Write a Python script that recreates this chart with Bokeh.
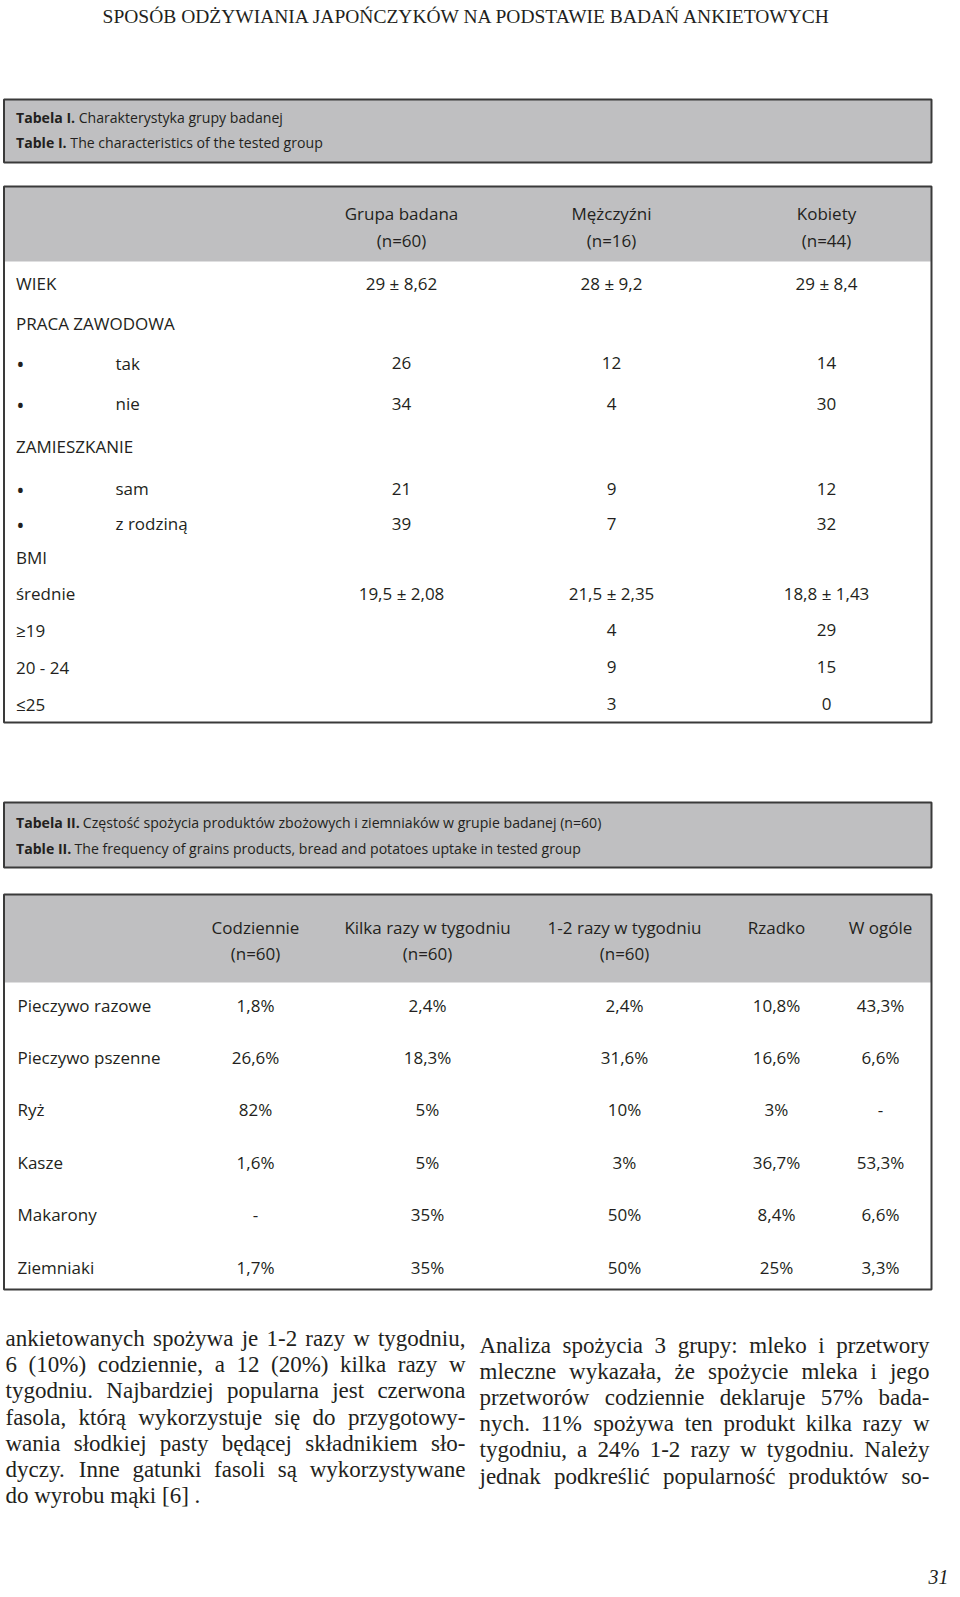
from bokeh.plotting import figure
from bokeh.models import Range1d
from bokeh.core.properties import value
from bokeh.embed import file_html
from bokeh.resources import INLINE

# ---------------- data ----------------
page_title = "SPOSÓB ODŻYWIANIA JAPOŃCZYKÓW NA PODSTAWIE BADAŃ ANKIETOWYCH"
page_number = "31"

t1_caption_bold = ["Tabela I.", "Table I."]
t1_caption_text = ["Charakterystyka grupy badanej", "The characteristics of  the tested group"]
t1_columns = ["Grupa badana", "Mężczyźni", "Kobiety"]
t1_counts = ["(n=60)", "(n=16)", "(n=44)"]
t1_rows = ["WIEK", "PRACA ZAWODOWA", "tak", "nie", "ZAMIESZKANIE", "sam", "z rodziną",
           "BMI", "średnie", "≥19", "20 - 24", "≤25"]
t1_bullet = [False, False, True, True, False, True, True, False, False, False, False, False]
t1_grupa = ["29 ± 8,62", "", "26", "34", "", "21", "39", "", "19,5 ± 2,08", "", "", ""]
t1_mezczyzni = ["28 ± 9,2", "", "12", "4", "", "9", "7", "", "21,5 ± 2,35", "4", "9", "3"]
t1_kobiety = ["29 ± 8,4", "", "14", "30", "", "12", "32", "", "18,8 ± 1,43", "29", "15", "0"]

t2_caption_bold = ["Tabela II.", "Table II."]
t2_caption_text = ["Częstość spożycia produktów zbożowych i ziemniaków  w grupie badanej (n=60)",
                   "The frequency of  grains products, bread and  potatoes uptake in tested group"]
t2_columns = ["Codziennie", "Kilka razy w tygodniu", "1-2 razy w tygodniu", "Rzadko", "W ogóle"]
t2_counts = ["(n=60)", "(n=60)", "(n=60)", "", ""]
t2_rows = ["Pieczywo razowe", "Pieczywo pszenne", "Ryż", "Kasze", "Makarony", "Ziemniaki"]
t2_codziennie = ["1,8%", "26,6%", "82%", "1,6%", "-", "1,7%"]
t2_kilka_razy = ["2,4%", "18,3%", "5%", "5%", "35%", "35%"]
t2_1_2_razy = ["2,4%", "31,6%", "10%", "3%", "50%", "50%"]
t2_rzadko = ["10,8%", "16,6%", "3%", "36,7%", "8,4%", "25%"]
t2_w_ogole = ["43,3%", "6,6%", "-", "53,3%", "6,6%", "3,3%"]

body_left = [
    "ankietowanych spożywa je 1-2 razy w tygodniu,",
    "6 (10%) codziennie, a 12 (20%) kilka razy w",
    "tygodniu. Najbardziej popularna jest czerwona",
    "fasola, którą wykorzystuje się do przygotowy-",
    "wania słodkiej pasty będącej składnikiem sło-",
    "dyczy. Inne gatunki fasoli są wykorzystywane",
    "do wyrobu mąki [6] .",
]
body_right = [
    "Analiza spożycia 3 grupy: mleko i przetwory",
    "mleczne wykazała, że spożycie mleka i jego",
    "przetworów codziennie deklaruje 57% bada-",
    "nych.  11% spożywa ten produkt kilka razy w",
    "tygodniu, a 24% 1-2 razy w tygodniu. Należy",
    "jednak podkreślić popularność produktów so-",
]

# ---------------- layout / style ----------------
W, H = 960, 1596
SANS = "Open Sans"
SERIF = "Liberation Serif"
INK = "#231f20"
GRAY = "#bfbfc1"
BORDER = "#3a3a3a"
TS = "17px"       # table text size
CS = 14.1         # caption size
BS = 23.0         # body size

BOX_L, BOX_R = 3.5, 931
CAP1 = (99, 162); CAP1_Y = [116.5, 142]
T1 = (186, 722); T1_BAND = 261
T1_HEAD_Y = [213, 240]
T1_ROW_Y = [282.5, 323, 362.5, 403, 446, 488, 523, 557, 592.5, 629.5, 666.5, 703.5]
T1_COL_X = [401, 611, 826]
CAP2 = (802, 867); CAP2_Y = [821.5, 848]
T2 = (894, 1289); T2_BAND = 982
T2_HEAD_Y = [927, 953]
T2_ROW_Y = [1005, 1057, 1109, 1161.5, 1214, 1266.5]
T2_COL_X = [255, 427, 624, 776, 880]
LEFT_COL = (5, 465); LEFT_BASE = [1338, 1364, 1390, 1417, 1442.5, 1468.5, 1495]
RIGHT_COL = (479, 929); RIGHT_BASE = [1345, 1371, 1397, 1423, 1449, 1475.5]

TIMES_W = {' ': 250, 'a': 444, 'b': 500, 'c': 444, 'd': 500, 'e': 444, 'f': 333, 'g': 500,
           'h': 500, 'i': 278, 'j': 278, 'k': 500, 'l': 278, 'm': 778, 'n': 500, 'o': 500,
           'p': 500, 'q': 500, 'r': 333, 's': 389, 't': 278, 'u': 500, 'v': 500, 'w': 722,
           'x': 500, 'y': 500, 'z': 444, 'ą': 444, 'ę': 444, 'ż': 444, 'ź': 444, 'ł': 278,
           'ó': 500, 'ś': 389, 'ć': 444, 'ń': 500, 'A': 722, 'I': 333, 'N': 722,
           ',': 250, '.': 250, '-': 333, '(': 333, ')': 333, '%': 833, '[': 333, ']': 333,
           ':': 278}
# approximate Open Sans Bold advance widths (per 1000 em)
SANSB_W = {'T': 574, 'a': 586, 'b': 635, 'e': 581, 'l': 295, 'I': 295, '.': 299, ' ': 260}


def tw(s, size):
    return sum(TIMES_W.get(c, 500) for c in s) / 1000.0 * size


def bold_w(s, size):
    return sum(SANSB_W.get(c, 600) for c in s) / 1000.0 * size


p = figure(width=W, height=H, output_backend="svg", toolbar_location=None,
           x_range=Range1d(0, W), y_range=Range1d(H, 0),
           x_axis_type=None, y_axis_type=None, min_border=0)
p.outline_line_color = None
p.grid.visible = False
p.background_fill_color = "white"
p.border_fill_color = "white"


def txt(xs, ys, texts, font=SANS, size=TS, align="left", baseline="middle", style="normal"):
    p.text(x=list(xs), y=list(ys), text=list(texts), text_font=value(font),
           text_font_size=size, text_align=align, text_baseline=baseline,
           text_font_style=style, text_color=INK)


def box(top_bottom, band=None):
    top, bottom = top_bottom
    p.quad(left=[BOX_L], right=[BOX_R], top=[top], bottom=[band if band is not None else bottom],
           fill_color=GRAY, line_color=None)
    p.quad(left=[BOX_L], right=[BOX_R], top=[top], bottom=[bottom],
           fill_color=None, line_color=BORDER, line_width=2)


# title
txt([467], [15.5], [page_title], font=SERIF, size="19.5px", align="center")

# caption boxes
for cap, ys, bolds, texts in [(CAP1, CAP1_Y, t1_caption_bold, t1_caption_text),
                              (CAP2, CAP2_Y, t2_caption_bold, t2_caption_text)]:
    box(cap)
    txt([15.5] * 2, ys, bolds, size=f"{CS}px", style="bold")
    txt([16.5 + bold_w(b + " ", CS) for b in bolds], ys, texts, size=f"{CS}px")

# table I
box(T1, T1_BAND)
for cx, name, n in zip(T1_COL_X, t1_columns, t1_counts):
    txt([cx, cx], T1_HEAD_Y, [name, n], align="center")
lab_x = [115 if b else 15.5 for b in t1_bullet]
txt(lab_x, T1_ROW_Y, t1_rows)
bul_y = [y for y, b in zip(T1_ROW_Y, t1_bullet) if b]
txt([20] * len(bul_y), bul_y, ["•"] * len(bul_y), align="center", size="22px")
for cx, col in zip(T1_COL_X, [t1_grupa, t1_mezczyzni, t1_kobiety]):
    txt([cx] * len(col), T1_ROW_Y, col, align="center")

# table II
box(T2, T2_BAND)
for cx, name, n in zip(T2_COL_X, t2_columns, t2_counts):
    txt([cx, cx], T2_HEAD_Y, [name, n], align="center")
txt([17] * len(t2_rows), T2_ROW_Y, t2_rows)
for cx, col in zip(T2_COL_X, [t2_codziennie, t2_kilka_razy, t2_1_2_razy, t2_rzadko, t2_w_ogole]):
    txt([cx] * len(col), T2_ROW_Y, col, align="center")


# body text, justified word by word
def justify(lines, col, bases, last_left):
    x0, x1 = col
    lx, ly, lt, rx, ry, rt = [], [], [], [], [], []
    for i, (line, y) in enumerate(zip(lines, bases)):
        words = line.split()
        if last_left and i == len(lines) - 1:
            x = x0
            for w in words:
                lx.append(x); ly.append(y); lt.append(w)
                x += tw(w, BS) + tw(" ", BS)
            continue
        total = sum(tw(w, BS) for w in words)
        gap = (x1 - x0 - total) / (len(words) - 1)
        x = x0
        for j, w in enumerate(words):
            if j == len(words) - 1:
                rx.append(x1); ry.append(y); rt.append(w)
            else:
                lx.append(x); ly.append(y); lt.append(w)
                x += tw(w, BS) + gap
    txt(lx, ly, lt, font=SERIF, size=f"{BS}px", baseline="alphabetic")
    txt(rx, ry, rt, font=SERIF, size=f"{BS}px", align="right", baseline="alphabetic")


justify(body_left, LEFT_COL, LEFT_BASE, True)
justify(body_right, RIGHT_COL, RIGHT_BASE, False)

# page number
txt([948], [1576], [page_number], font=SERIF, size="20px", align="right",
    baseline="middle", style="italic")

open("out.html", "w").write(file_html(p, INLINE))
